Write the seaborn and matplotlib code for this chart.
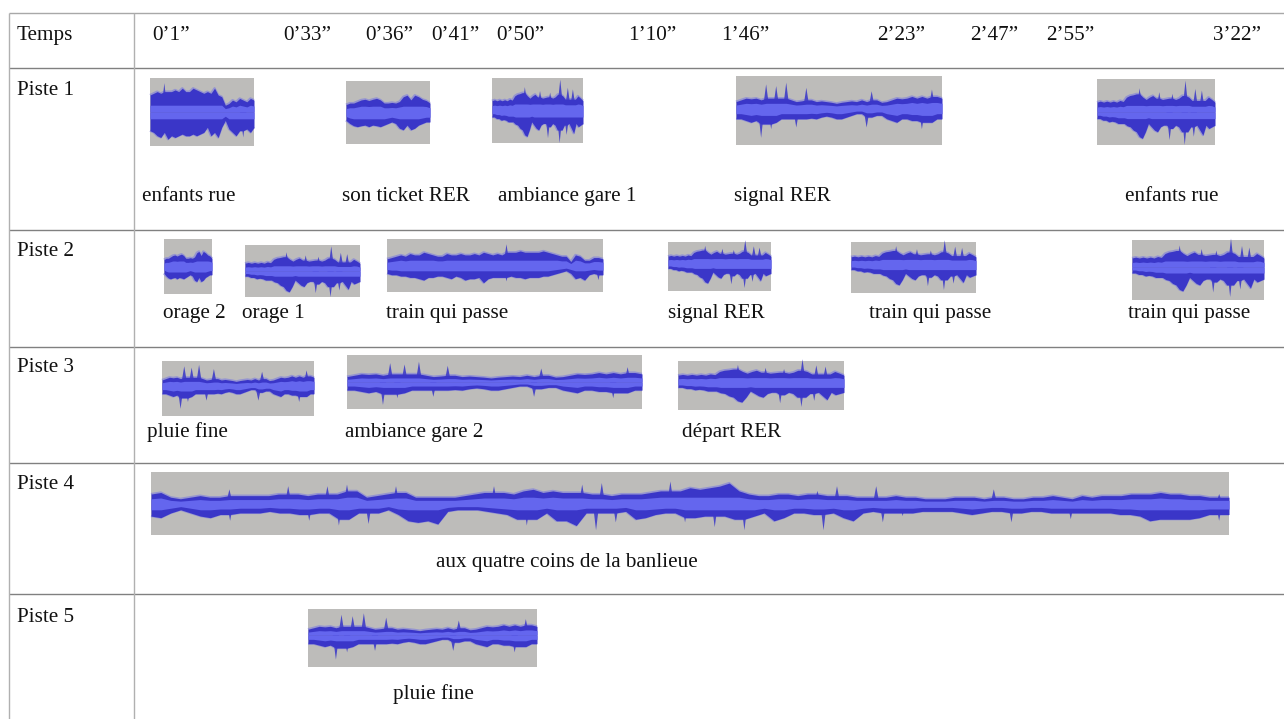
# -*- coding: utf-8 -*-
import numpy as np
import matplotlib
matplotlib.use("Agg")
import matplotlib.pyplot as plt
import seaborn as sns

# Texte du tableau
time_labels = ["0’1”", "0’33”", "0’36”", "0’41”", "0’50”", "1’10”", "1’46”", "2’23”", "2’47”", "2’55”", "3’22”"]
track_names = ["Piste 1", "Piste 2", "Piste 3", "Piste 4", "Piste 5"]
clip_names = ["enfants rue", "son ticket RER", "ambiance gare 1", "signal RER", "enfants rue",
              "orage 2", "orage 1", "train qui passe", "signal RER", "train qui passe", "train qui passe",
              "pluie fine", "ambiance gare 2", "départ RER",
              "aux quatre coins de la banlieue",
              "pluie fine"]
clip_tracks = [0, 0, 0, 0, 0, 1, 1, 1, 1, 1, 1, 2, 2, 2, 3, 4]
clip_start = [150, 346, 492, 736, 1097, 164, 245, 387, 668, 851, 1132, 162, 347, 678, 151, 308]
clip_end = [254, 430, 583, 942, 1215, 212, 360, 603, 771, 976, 1264, 314, 642, 844, 1229, 537]
clip_shapes = ["e", "c", "a", "b", "a", "c", "a", "d", "a", "a", "a", "b", "b", "a", "f", "b"]

wave_a_up = [.3, .33, .3, .33, .3, .33, .3, .35, .32, .45, .5, .52, .55, .72, .45, .38, .45, .5, .42, .6,
             .38, .4, .42, .55, .38, .42, .5, .95, .45, .35, .7, .35, .65, .35, .45, .38, .3]
wave_a_low = [.2, .2, .25, .25, .3, .28, .3, .35, .35, .35, .42, .45, .55, .6, .75, .8, .6, .35, .45, .55,
              .6, .45, .4, .4, .85, .5, .4, .45, .6, 1.0, .6, .45, .75, .4, .55, .7, .4, .5, .45, .4]
wave_b_up = [.2, .25, .3, .28, .3, .25, .7, .3, .65, .3, .75, .25, .2, .22, .6, .25, .2, .22, .2, .18, .15,
             .18, .2, .22, .2, .25, .2, .5, .25, .18, .2, .25, .3, .28, .3, .35, .3, .35, .3, .55, .35, .3]
wave_b_low = [.3, .3, .35, .4, .35, .85, .45, .6, .4, .3, .3, .3, .55, .3, .3, .28, .3, .25, .22, .25, .3,
              .3, .25, .2, .15, .15, .55, .25, .2, .2, .3, .35, .4, .3, .3, .35, .35, .6, .4, .4, .3, .3]
wave_c_up = [.25, .3, .3, .35, .4, .42, .38, .42, .45, .4, .3, .3, .32, .3, .35, .5, .55, .4, .55, .5, .42, .38, .3]
wave_c_low = [.25, .35, .42, .45, .42, .4, .45, .4, .42, .45, .4, .35, .3, .35, .5, .55, .4, .55, .5, .4, .35, .3, .3]
wave_d_up = [.25, .3, .35, .4, .35, .45, .4, .4, .5, .45, .4, .35, .35, .45, .4, .4, .45, .4, .4, .45, .4, .5,
             .45, .4, .45, .4, .8, .5, .5, .55, .5, .5, .5, .5, .55, .5, .45, .4, .35, .35, .15, .4, .35, .2, .2, .3, .3, .25]
wave_d_low = [.3, .35, .35, .4, .4, .45, .45, .5, .55, .45, .45, .4, .4, .45, .5, .4, .45, .55, .5, .5, .45, .65,
              .5, .45, .45, .45, .6, .4, .45, .45, .5, .45, .45, .45, .4, .4, .35, .3, .25, .2, .3, .5, .45, .55, .35, .3, .55, .35]
wave_e_up = [.5, .55, .6, .55, .85, .6, .6, .65, .6, .7, .6, .6, .7, .65, .6, .55, .6, .55, .7, .5, .45, .2, .25, .35, .3, .4, .35, .3, .4, .35]
wave_e_low = [.55, .6, .7, .75, .6, .8, .7, .75, .7, .65, .7, .7, .65, .7, .65, .6, .45, .7, .6, .75, .45, .25, .5, .6, .7, .55, .75, .5, .6, .45]
wave_f_up = [.3, .35, .2, .15, .2, .25, .2, .2, .45, .25, .25, .25, .25, .3, .55, .3, .25, .3, .55, .3, .6, .4, .2, .25,
             .3, .55, .35, .2, .2, .2, .2, .2, .25, .3, .35, .55, .35, .3, .4, .45, .35, .4,
             .35, .35, .6, .3, .65, .25, .3, .3, .3, .35, .4, .7, .4, .5, .45, .5, .55, .65, .4, .3, .25, .25, .3, .3, .25,
             .3, .4, .25, .55, .25, .2, .2, .55, .2, .25, .2, .2, .15, .15, .15, .2, .2, .2, .15, .45, .2, .15, .15, .2, .2,
             .25, .2, .15, .25, .2, .25, .25, .25, .3, .3, .3, .35, .3, .3, .25, .25, .2, .3, .2]
wave_f_low = [.4, .45, .3, .2, .3, .4, .45, .35, .55, .3, .3, .3, .25, .3, .3, .35, .55, .3, .3, .7, .5, .3, .65, .3, .2,
              .35, .55, .6, .55, .65, .25, .2, .2, .2, .25, .3, .35, .5, .7, .5, .3, .55,
              .55, .7, .3, .85, .3, .6, .25, .5, .45, .35, .3, .3, .6, .45, .4, .75, .4, .5, .85, .4, .3, .55, .45, .3, .3, .35,
              .85, .3, .45, .55, .3, .25, .6, .3, .4, .3, .25, .25, .25, .25, .3, .35, .3, .25, .25, .6, .3, .25, .25, .3, .3,
              .5, .3, .3, .3, .3, .35, .35, .4, .55, .5, .5, .5, .5, .45, .35, .55, .35]

waves = {"a": (wave_a_up, wave_a_low), "b": (wave_b_up, wave_b_low), "c": (wave_c_up, wave_c_low),
         "d": (wave_d_up, wave_d_low), "e": (wave_e_up, wave_e_low), "f": (wave_f_up, wave_f_low)}

# Mise en page (repere en pixels de l'image, lignes de base du texte)
time_x = [152, 283, 365, 431, 496, 628, 721, 877, 970, 1046, 1213]
rule_y = [13, 68, 230, 347, 463, 594]
track_y = [95, 256, 372, 489, 622]
clip_top = [78, 81, 78, 76, 79, 239, 245, 239, 242, 242, 240, 361, 355, 361, 472, 609]
clip_bottom = [146, 144, 143, 145, 145, 294, 297, 292, 291, 293, 300, 416, 409, 410, 535, 667]
clip_shift = [0, 0, 0, -2, 0, 0, 0, 0, -3, -3, -3, -3, 0, -3, 0, -3]
name_x = [142, 342, 498, 734, 1125, 163, 242, 386, 668, 869, 1128, 147, 345, 682, 436, 393]
name_y = [201, 201, 201, 201, 201, 318, 318, 318, 318, 318, 318, 437, 437, 437, 567, 699]


def split_spikes(amp):
    # les pics isoles sont traces en fines pointes, le reste en enveloppe
    amp = np.array(amp, dtype=float)
    base = amp.copy()
    spikes = []
    for k in range(1, len(amp) - 1):
        side = max(amp[k - 1], amp[k + 1])
        if amp[k] > 1.3 * side:
            base[k] = side
            spikes.append(k)
    return base, spikes


def draw_side(ax, x0, x1, amp, mid, half, sign):
    base, spikes = split_spikes(amp)
    xs = np.linspace(x0, x1, len(base))
    edge = mid + sign * base * half
    sns.lineplot(x=xs, y=edge, ax=ax, color="#8b8bd6", lw=1.6, alpha=.8, legend=False,
                 estimator=None, sort=False, zorder=3, solid_capstyle="butt")
    ax.fill_between(xs, mid, edge, color="#3a36c8", lw=0, zorder=4)
    for k in spikes:
        tip = mid + sign * amp[k] * half
        ax.fill([xs[k] - 3.2, xs[k], xs[k] + 3.2], [mid, tip, mid], color="#4a48c6", lw=0, zorder=3.5)
    ax.fill_between(xs, mid, mid + sign * np.minimum(base * .5, .2) * half, color="#6466ee", lw=0, zorder=5)


sns.set_theme(style="white")
plt.rcParams["font.family"] = ["Liberation Serif", "DejaVu Serif"]

fig = plt.figure(figsize=(12.84, 7.19), dpi=100)
ax = fig.add_axes([0, 0, 1, 1])
ax.set_xlim(0, 1284)
ax.set_ylim(719, 0)
ax.axis("off")

# Grille du tableau
for i, y in enumerate(rule_y):
    ax.hlines(y, 9, 1284, color="#a8a8a8" if i == 0 else "#808080", lw=1.0)
ax.vlines([9, 134], 13, 719, color="#b0b0b0", lw=1.0)

text_style = dict(fontsize=15.2, color="#111111", va="baseline", ha="left")
ax.text(17, 40, "Temps", **text_style)
for x, lab in zip(time_x, time_labels):
    ax.text(x, 40, lab, **text_style)
for y, lab in zip(track_y, track_names):
    ax.text(17, y, lab, **text_style)

# Pistes : fond gris, enveloppe sombre, bande claire au centre
for i, name in enumerate(clip_names):
    x0, x1 = clip_start[i], clip_end[i]
    y0, y1 = clip_top[i], clip_bottom[i]
    mid = (y0 + y1) / 2 + clip_shift[i]
    half = (y1 - y0) / 2
    ax.fill_between([x0, x1], y0, y1, color="#bdbcba", lw=0, zorder=2)
    up, low = waves[clip_shapes[i]]
    draw_side(ax, x0, x1, up, mid, half, -1)
    draw_side(ax, x0, x1, low, mid, half, 1)
    ax.text(name_x[i], name_y[i], name, **text_style)

ax.set_xlim(0, 1284)
ax.set_ylim(719, 0)
fig.savefig("out.png", dpi=100)
